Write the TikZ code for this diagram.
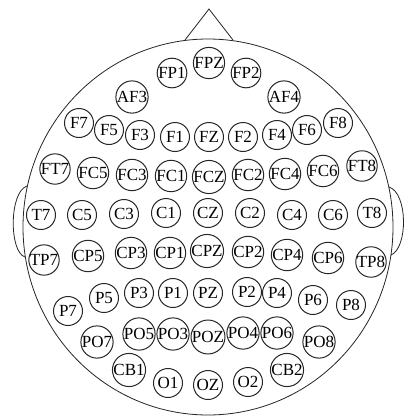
\documentclass[tikz,border=0pt]{standalone}
\usepackage{fontspec}
\setmainfont{Liberation Serif}
\usetikzlibrary{positioning}

\begin{document}
\begin{tikzpicture}[
    x=1pt, y=-1pt,
    outline/.style={draw=black!85, line width=0.8pt},
    elec/.style={circle, draw=black!85, line width=1pt, minimum size=29pt, inner sep=0pt,
                 font=\fontsize{17}{17}\selectfont},
]
\useasboundingbox (0,0) rectangle (406,416);
% === Head, nose and ears ===
\draw[outline] (208,227) ellipse [x radius=185, y radius=188];
\coordinate (noseL) at (185,40);
\coordinate (noseT) at (209,9);
\coordinate (noseR) at (233,40);
\draw[outline] (noseL) -- (noseT) -- (noseR);
\draw[outline] (27,186) .. controls (9,192) and (9,252) .. (25,257);
\draw[outline] (389,187) .. controls (408,193) and (408,248) .. (391,255);
% === Frontal pole and AF ===
\foreach \n/\x/\y in {FPZ/209/63, FP1/172/73, FP2/246/73, AF3/132/97, AF4/284/97} {
    \node[elec] (\n) at (\x,\y) {\n};
}
% === Frontal row ===
\foreach \n/\x/\y in {F7/79/123, F5/109/130, F3/140/135, F1/175/137, FZ/209/137,
                      F2/243/137, F4/277/135, F6/307/130, F8/338/123} {
    \node[elec] (\n) at (\x,\y) {\n};
}
% === Fronto-central row ===
\foreach \n/\x/\y in {FT7/55/169, FC5/93/173, FC3/132/175, FC1/171/176, FCZ/209/177,
                      FC2/248/175, FC4/285/174, FC6/323/171, FT8/362/166} {
    \node[elec] (\n) at (\x,\y) {\n};
}
% === Central row ===
\foreach \n/\x/\y in {T7/41/215, C5/82/215, C3/124/214, C1/166/213, CZ/208/213,
                      C2/250/213, C4/292/215, C6/333/215, T8/372/213} {
    \node[elec] (\n) at (\x,\y) {\n};
}
% === Centro-parietal row ===
\foreach \n/\x/\y in {TP7/44/260, CP5/88/256, CP3/131/253, CP1/170/253, CPZ/207/251,
                      CP2/248/252, CP4/287/255, CP6/328/258, TP8/371/262} {
    \node[elec] (\n) at (\x,\y) {\n};
}
% === Parietal row ===
\foreach \n/\x/\y in {P7/68/311, P5/104/298, P3/139/293, P1/173/293, PZ/208/293,
                      P2/247/292, P4/277/293, P6/313/300, P8/351/305} {
    \node[elec] (\n) at (\x,\y) {\n};
}
% === Parieto-occipital row ===
\foreach \n/\x/\y in {PO7/97/342, PO5/139/334, PO3/173/334, POZ/208/337,
                      PO4/243/333, PO6/277/333, PO8/319/342} {
    \node[elec] (\n) at (\x,\y) {\n};
}
% === Occipital and cerebellar ===
\foreach \n/\x/\y in {CB1/129/370, O1/168/383, OZ/208/385, O2/248/382, CB2/287/370} {
    \node[elec] (\n) at (\x,\y) {\n};
}
\end{tikzpicture}
\end{document}
